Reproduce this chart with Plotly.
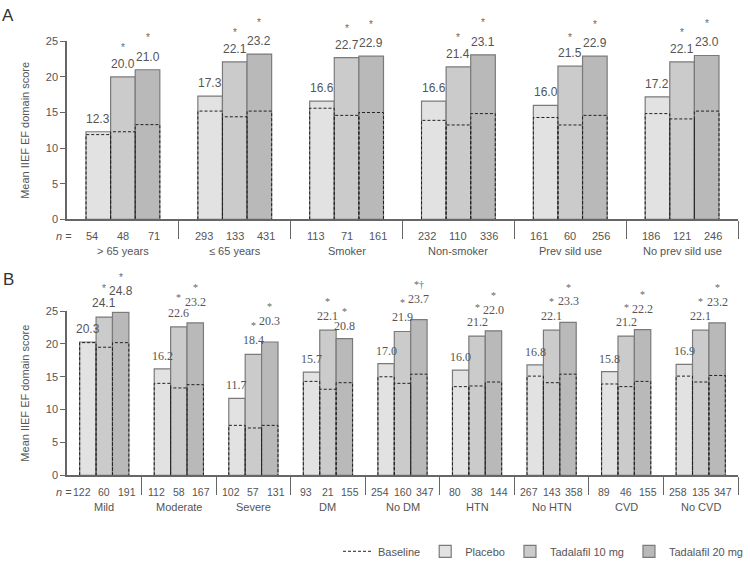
import plotly.graph_objects as go

# ---------------- Data ----------------
series_names = ["Placebo", "Tadalafil 10 mg", "Tadalafil 20 mg"]

a_categories = ["> 65 years", "≤ 65 years", "Smoker", "Non-smoker", "Prev sild use", "No prev sild use"]
a_placebo = [12.3, 17.3, 16.6, 16.6, 16.0, 17.2]
a_t10 = [20.0, 22.1, 22.7, 21.4, 21.5, 22.1]
a_t20 = [21.0, 23.2, 22.9, 23.1, 22.9, 23.0]
a_base_placebo = [11.9, 15.2, 15.6, 13.9, 14.3, 14.85]
a_base_t10 = [12.3, 14.4, 14.6, 13.25, 13.25, 14.1]
a_base_t20 = [13.3, 15.2, 15.0, 14.85, 14.6, 15.2]
a_n_placebo = [54, 293, 113, 232, 161, 186]
a_n_t10 = [48, 133, 71, 110, 60, 121]
a_n_t20 = [71, 431, 161, 336, 256, 246]
a_sig_t10 = ["*", "*", "*", "*", "*", "*"]
a_sig_t20 = ["*", "*", "*", "*", "*", "*"]

b_categories = ["Mild", "Moderate", "Severe", "DM", "No DM", "HTN", "No HTN", "CVD", "No CVD"]
b_placebo = [20.3, 16.2, 11.7, 15.7, 17.0, 16.0, 16.8, 15.8, 16.9]
b_t10 = [24.1, 22.6, 18.4, 22.1, 21.9, 21.2, 22.1, 21.2, 22.1]
b_t20 = [24.8, 23.2, 20.3, 20.8, 23.7, 22.0, 23.3, 22.2, 23.2]
b_base_placebo = [20.2, 14.0, 7.6, 14.3, 15.0, 13.5, 15.1, 13.9, 15.1]
b_base_t10 = [19.5, 13.3, 7.2, 13.1, 14.0, 13.6, 14.1, 13.5, 14.2]
b_base_t20 = [20.2, 13.8, 7.6, 14.1, 15.4, 14.2, 15.4, 14.3, 15.2]
b_n_placebo = [122, 112, 102, 93, 254, 80, 267, 89, 258]
b_n_t10 = [60, 58, 57, 21, 160, 38, 143, 46, 135]
b_n_t20 = [191, 167, 131, 155, 347, 144, 358, 155, 347]
b_sig_t10 = ["*"] * 9
b_sig_t20 = ["*", "*", "*", "*", "*†", "*", "*", "*", "*"]

y_ticks = [0, 5, 10, 15, 20, 25]

# ---------------- Style ----------------
W, H = 750, 571
colors = ["#e2e2e2", "#cbcbcb", "#b9b9b9"]
outline = "#7a7a7a"
axis_col = "#666666"
text_col = "#555555"
sans = "Liberation Sans, Arial, sans-serif"
serif = "Liberation Serif, Times New Roman, serif"
bargap = 0.34
bw = (1 - bargap) / 3
offsets = [-bw, 0, bw]

fig = go.Figure()
annotations = []


def add_panel(xa, ya, cats, vals, bases, ns, sigs, showlegend, fams, fsize,
              lab_shift, star_shift, n_spread, n_size, n_shift, cat_shift):
    idx = list(range(len(cats)))
    for k in range(3):
        fig.add_trace(go.Bar(
            x=idx, y=vals[k], name=series_names[k],
            marker=dict(color=colors[k], line=dict(color=outline, width=1.2)),
            xaxis=xa, yaxis=ya, showlegend=showlegend, legendrank=k + 2,
            hoverinfo="skip",
        ))
    # baseline dotted boxes
    bx, by = [], []
    for k in range(3):
        for i in idx:
            l = i + offsets[k] - bw / 2
            r = i + offsets[k] + bw / 2
            b = bases[k][i]
            bx += [l, l, r, r, None]
            by += [0, b, b, 0, None]
    fig.add_trace(go.Scatter(
        x=bx, y=by, mode="lines", name="Baseline",
        line=dict(color="#222222", width=1, dash="3px,2px"),
        xaxis=xa, yaxis=ya, showlegend=showlegend, legendrank=1,
        hoverinfo="skip",
    ))
    for k in range(3):
        for i in idx:
            ls, ss = lab_shift[k], star_shift[k]
            if k == 2 and vals[2][i] < vals[1][i]:
                # keep the lower 20 mg label clear of the 10 mg label
                ls, ss = 13, 27
            annotations.append(dict(
                x=i + offsets[k], y=vals[k][i], xref=xa, yref=ya,
                text=f"{vals[k][i]:.1f}", showarrow=False,
                yshift=ls,
                font=dict(family=fams[i], size=fsize, color=text_col)))
            if k > 0:
                s = (sigs[k - 1])[i]
                annotations.append(dict(
                    x=i + offsets[k], y=vals[k][i], xref=xa, yref=ya,
                    text=s, showarrow=False, yshift=ss,
                    font=dict(family=fams[i], size=10, color="#666666")))
            annotations.append(dict(
                x=i + offsets[k] * n_spread, y=0, xref=xa, yref=ya,
                text=str(ns[k][i]), showarrow=False, yshift=n_shift,
                font=dict(family=sans, size=n_size, color=text_col)))

    for i in idx:
        annotations.append(dict(
            x=i, y=0, xref=xa, yref=ya, text=cats[i], showarrow=False,
            yshift=cat_shift, font=dict(family=sans, size=11, color=text_col)))
    annotations.append(dict(
        x=64 / W, y=0, xref="paper", yref=ya, text="<i>n</i> =", showarrow=False,
        yshift=n_shift, xanchor="center",
        font=dict(family=sans, size=11, color=text_col)))


add_panel("x", "y", a_categories, [a_placebo, a_t10, a_t20],
          [a_base_placebo, a_base_t10, a_base_t20],
          [a_n_placebo, a_n_t10, a_n_t20], [a_sig_t10, a_sig_t20], False,
          [sans] * len(a_categories), 12,
          [13, 13, 13], [0, 29, 32], 1.26, 11, -17, -32)
add_panel("x2", "y2", b_categories, [b_placebo, b_t10, b_t20],
          [b_base_placebo, b_base_t10, b_base_t20],
          [b_n_placebo, b_n_t10, b_n_t20], [b_sig_t10, b_sig_t20], True,
          [sans] + [serif] * (len(b_categories) - 1), 12,
          [13, 14, 21], [0, 29, 35], 1.36, 10.5, -17, -32)

annotations.append(dict(x=8 / W, y=1 - 10 / H, xref="paper", yref="paper", text="A",
                        xanchor="center", yanchor="middle",
                        showarrow=False, font=dict(family=sans, size=17, color="#333")))
annotations.append(dict(x=8 / W, y=1 - 279 / H, xref="paper", yref="paper", text="B",
                        xanchor="center", yanchor="middle",
                        showarrow=False, font=dict(family=sans, size=17, color="#333")))

xdom = [67 / W, 738 / W]
xcommon = dict(domain=xdom, ticks="outside", ticklen=18, tickcolor=axis_col,
               tickwidth=1.2, showticklabels=False, showline=True, linecolor=axis_col,
               linewidth=1.5, showgrid=False, zeroline=False)
ycommon = dict(range=[0, 25], tickvals=y_ticks, ticks="outside", ticklen=5,
               tickcolor=axis_col, tickwidth=1.2, showline=True, linecolor=axis_col,
               linewidth=1.5, showgrid=False, zeroline=False,
               tickfont=dict(family=sans, size=11, color=text_col),
               title=dict(text="Mean IIEF EF domain score", standoff=14,
                          font=dict(family=sans, size=11, color=text_col)))

fig.update_layout(
    width=W, height=H,
    margin=dict(l=0, r=0, t=0, b=0),
    paper_bgcolor="white", plot_bgcolor="white",
    barmode="group", bargap=bargap, bargroupgap=0,
    xaxis=dict(**xcommon, range=[-0.5, len(a_categories) - 0.5], anchor="y",
               tickvals=[i + 0.5 for i in range(len(a_categories))]),
    yaxis=dict(**ycommon, domain=[1 - 218 / H, 1 - 36 / H], anchor="x"),
    xaxis2=dict(**xcommon, range=[-0.5, len(b_categories) - 0.5], anchor="y2",
                tickvals=[i + 0.5 for i in range(len(b_categories))]),
    yaxis2=dict(**ycommon, domain=[1 - 479.3 / H, 1 - 311.7 / H], anchor="x2"),
    legend=dict(orientation="h", x=748 / W, xanchor="right", y=1 - 557 / H,
                yanchor="middle", font=dict(family=sans, size=11, color=text_col),
                traceorder="normal", bgcolor="rgba(0,0,0,0)"),
    annotations=annotations,
    showlegend=True,
)

fig.write_html("out.html", config={"displayModeBar": False},
               post_script="document.body.style.margin='0px';")
